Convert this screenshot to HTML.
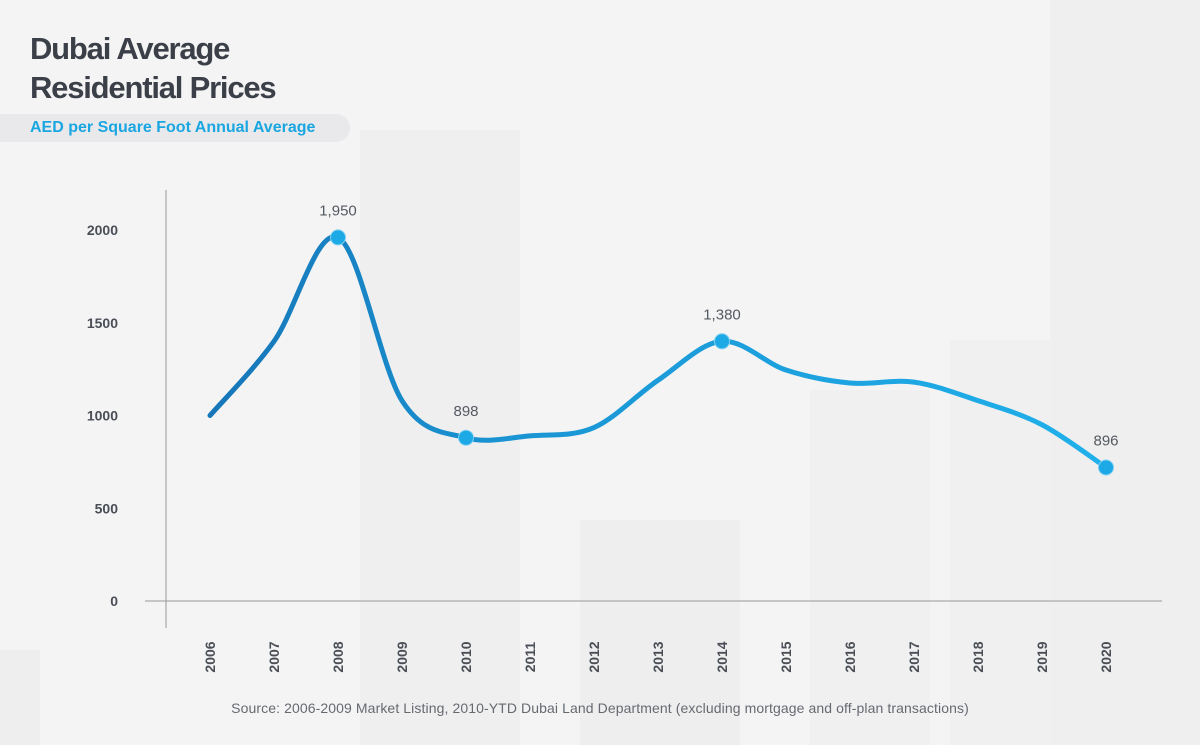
<!DOCTYPE html>
<html><head><meta charset="utf-8"><style>
body{margin:0;width:1200px;height:745px;overflow:hidden;font-family:"Liberation Sans",sans-serif;background:#f4f4f5;}
#wrap{position:relative;width:1200px;height:745px;}
.title{position:absolute;left:30px;top:29px;font-size:31px;font-weight:bold;color:#3b3f48;line-height:39px;letter-spacing:-1.2px}
.sub{position:absolute;left:0;top:114px;width:350px;height:28px;background:#e9e9ec;border-radius:0 14px 14px 0;color:#1aa6e0;font-weight:bold;font-size:16px;line-height:28px;padding-left:30px;box-sizing:border-box}
</style></head><body><div id="wrap">
<svg width="1200" height="745" style="position:absolute;left:0;top:0">
<rect x="360" y="130" width="160" height="615" fill="#efeff0"/>
<rect x="580" y="520" width="160" height="225" fill="#eeeeef"/>
<rect x="810" y="390" width="120" height="355" fill="#f0f0f1"/>
<rect x="950" y="340" width="110" height="405" fill="#f0f0f1"/>
<rect x="1050" y="0" width="150" height="745" fill="#efeff0"/>
<rect x="0" y="650" width="40" height="95" fill="#eeeeef"/>
</svg>
<div class="title">Dubai Average<br>Residential Prices</div>
<div class="sub">AED per Square Foot Annual Average</div>
<svg id="c" width="1200" height="745" style="position:absolute;left:0;top:0">
<defs><linearGradient id="g" x1="0" x2="1" y1="0" y2="0"><stop offset="0" stop-color="#1676b8"/><stop offset="0.35" stop-color="#1a95d4"/><stop offset="1" stop-color="#20b0ea"/></linearGradient></defs>
</svg>
<div style="position:absolute;left:0;width:1200px;top:700px;text-align:center;font-size:14px;color:#666a70;letter-spacing:0.1px">Source: 2006-2009 Market Listing, 2010-YTD Dubai Land Department (excluding mortgage and off-plan transactions)</div>
</div>
<script>
const years=[2006,2007,2008,2009,2010,2011,2012,2013,2014,2015,2016,2017,2018,2019,2020];
const values=[1000,1400,1960,1080,880,890,935,1190,1400,1245,1175,1180,1080,950,720];
const yTicks=[0,500,1000,1500,2000];
const labelIdx=[2,4,8,14];
const labelText=["1,950","898","1,380","896"];
const svg=document.getElementById('c');const NS='http://www.w3.org/2000/svg';
const x=i=>210+i*64, y=v=>601-v*0.1855;
function el(t,a,txt){const e=document.createElementNS(NS,t);for(const k in a)e.setAttribute(k,a[k]);if(txt!==undefined)e.textContent=txt;svg.appendChild(e);return e;}
let e=el('line',{x1:166,y1:190,x2:166,y2:628,stroke:'#999',"stroke-width":1});

e=el('line',{x1:145,y1:601,x2:1162,y2:601,stroke:'#999',"stroke-width":1});

yTicks.forEach(t=>{const l=el('text',{x:118,y:y(t)+5,"text-anchor":"end","font-size":14,"font-weight":"bold",fill:"#4a4e56"},t);
});
years.forEach((yr,i)=>{const l=el('text',{transform:`translate(${x(i)+5},657) rotate(-90)`,"text-anchor":"middle","font-size":14,"font-weight":"bold",fill:"#4a4e56"},yr);
});
const P=values.map((v,i)=>[x(i),y(v)]);
let d=`M${P[0][0]},${P[0][1]}`;
for(let i=0;i<P.length-1;i++){const p0=P[Math.max(0,i-1)],p1=P[i],p2=P[i+1],p3=P[Math.min(P.length-1,i+2)];
d+=` C${p1[0]+(p2[0]-p0[0])/6},${p1[1]+(p2[1]-p0[1])/6} ${p2[0]-(p3[0]-p1[0])/6},${p2[1]-(p3[1]-p1[1])/6} ${p2[0]},${p2[1]}`;}
const line=el('path',{d:d,fill:'none',stroke:'url(#g)',"stroke-width":5,"stroke-linecap":"round"});

labelIdx.forEach((i,k)=>{const c=el('circle',{cx:x(i),cy:y(values[i]),r:7.5,fill:'#1da8e6',stroke:'#7fd0f2',"stroke-width":1});

const t=el('text',{x:x(i),y:y(values[i])-22,"text-anchor":"middle","font-size":15,fill:"#555a60"},labelText[k]);
});
</script></body></html>
